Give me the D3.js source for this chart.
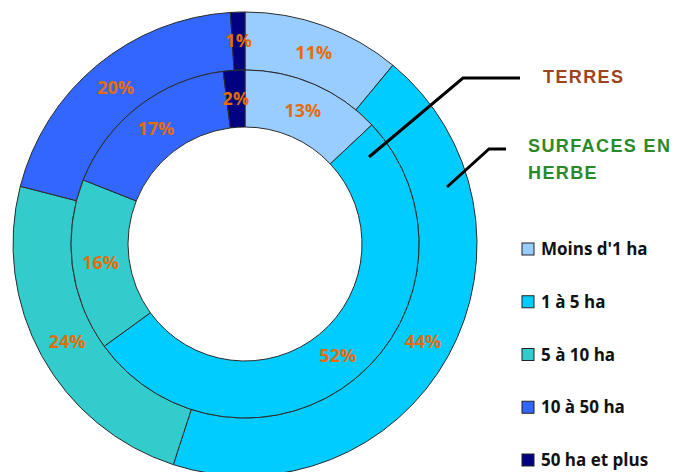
<!DOCTYPE html>
<html>
<head>
<meta charset="utf-8">
<script src="https://cdn.jsdelivr.net/npm/d3@7"></script>
<style>
  body { margin: 0; background: #fff; }
  svg { display: block; }
</style>
</head>
<body>
<script>
// categories + values
const categories = ["Moins d'1 ha", "1 à 5 ha", "5 à 10 ha", "10 à 50 ha", "50 ha et plus"]
const terres = [13, 52, 16, 17, 2]          // inner ring
const surfacesHerbe = [11, 44, 24, 20, 1]   // outer ring
const colors = ["#99CCFF", "#00CCFF", "#33CCCC", "#3366FF", "#000080"]

const width = 675, height = 472
const cx = 245, cy = 244

const svg = d3.select("body").append("svg")
    .attr("width", width)
    .attr("height", height)

const g = svg.append("g").attr("transform", "translate(" + cx + "," + cy + ")")

const pie = d3.pie().sort(null).value(d => d)
const color = d3.scaleOrdinal().domain(d3.range(categories.length)).range(colors)

const rings = [
    { data: surfacesHerbe, inner: 174, outer: 232 },
    { data: terres, inner: 117, outer: 174 }
]

rings.forEach((ring) => {
    const arc = d3.arc().innerRadius(ring.inner).outerRadius(ring.outer)
    const arcs = pie(ring.data)

    g.append("g").selectAll("path")
        .data(arcs)
        .enter().append("path")
        .attr("d", arc)
        .attr("fill", (d, i) => color(i))
        .attr("stroke", "#2b2b2b")
        .attr("stroke-width", 1)

    g.append("g").selectAll("text")
        .data(arcs)
        .enter().append("text")
        .attr("transform", d => "translate(" + arc.centroid(d) + ")")
        .attr("text-anchor", "middle")
        .attr("dy", "0.35em")
        .style("font-family", "'Open Sans', sans-serif")
        .style("font-weight", "bold")
        .style("font-size", "18px")
        .style("fill", "#E46C0A")
        .text(d => d.data + "%")
})

// leader lines for the two rings
const leaders = [
    { pts: [[369, 157], [463, 78], [520, 78]] },
    { pts: [[447, 187], [489, 149], [506, 149]] }
]
svg.selectAll(".leader")
    .data(leaders)
    .enter().append("path")
    .attr("class", "leader")
    .attr("d", d => d3.line()(d.pts))
    .attr("fill", "none")
    .attr("stroke", "#000")
    .attr("stroke-width", 3)

svg.append("text")
    .attr("x", 543).attr("y", 83)
    .style("font-family", "'Liberation Sans', Arial, sans-serif")
    .style("font-weight", "bold")
    .style("font-size", "18px")
    .style("letter-spacing", "1.4px")
    .style("fill", "#9C451C")
    .text("TERRES")

const herbe = svg.append("text")
    .style("font-family", "'Liberation Sans', Arial, sans-serif")
    .style("font-weight", "bold")
    .style("font-size", "18px")
    .style("letter-spacing", "1.4px")
    .style("fill", "#2A8A2A")
herbe.append("tspan").attr("x", 528).attr("y", 152).text("SURFACES EN")
herbe.append("tspan").attr("x", 528).attr("y", 179).text("HERBE")

// legend
const legendY = d3.scalePoint().domain(categories).range([249, 460])
const legend = svg.append("g")
    .selectAll("g")
    .data(categories)
    .enter().append("g")
    .attr("transform", d => "translate(522," + legendY(d) + ")")

legend.append("rect")
    .attr("x", 0).attr("y", -6)
    .attr("width", 12).attr("height", 12)
    .attr("fill", (d, i) => color(i))
    .attr("stroke", "#222")
    .attr("stroke-width", 1)

legend.append("text")
    .attr("x", 19)
    .attr("dy", "0.36em")
    .style("font-family", "'Open Sans', sans-serif")
    .style("font-weight", "bold")
    .style("font-size", "17px")
    .style("fill", "#111")
    .text(d => d)
</script>
</body>
</html>
